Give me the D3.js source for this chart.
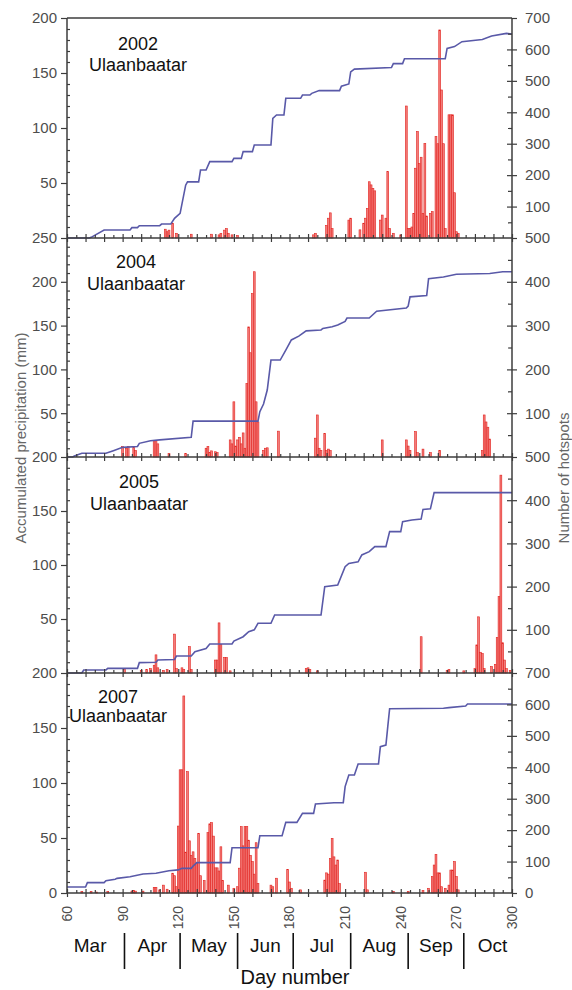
<!DOCTYPE html>
<html><head><meta charset="utf-8">
<script src="https://cdn.jsdelivr.net/npm/d3@7"></script>
<style>html,body{margin:0;padding:0;background:#fff;} svg{display:block;font-family:"Liberation Sans",Arial,sans-serif;}</style>
</head><body><svg id="c" width="572" height="990"></svg>
<script>
// ---------------- DATA ----------------
const years = ["2002", "2004", "2005", "2007"];
const station = "Ulaanbaatar";
const dayTicks = [60, 90, 120, 150, 180, 210, 240, 270, 300];
const monthNames = ["Mar", "Apr", "May", "Jun", "Jul", "Aug", "Sep", "Oct"];
const monthStartDays = [60, 91, 121, 152, 182, 213, 244, 274, 305];
const leftMax = [200, 250, 200, 200];
const rightMax = [700, 500, 500, 700];

// accumulated precipitation (mm): vertices of the step-like curve
const precipDays2002 = [60,72,73,80,94,95,98,99,110,111,116,118,121,124,125,131,132,135,137,149,150,154,155,160,161,170,171,173,177,178,186,187,191,192,196,207,208,212,213,215,235,236,241,242,264,265,269,273,284,289,297,300];
const precipTotals2002 = [0,0,0.6,7.3,7.3,9.4,9.4,11.2,11.2,12.7,12.7,17.9,22.4,48,51,51,61.8,61.8,69.4,69.4,72.4,72.4,78.5,78.5,84.5,84.5,108.8,111.8,111.8,127,127,130,130,131.5,134,134,138,140,151,153.5,155,158.5,158.5,163,163,172.4,174,178.5,180.5,183.6,186,185.5];

const precipDays2004 = [60,63,64,68,81,85,90,98,99,105,110,127,128,163,164,166,168,170,175,178,181,185,189,197,198,203,206,210,211,223,227,243,244,245,254,255,263,270,288,295,300];
const precipTotals2004 = [0,0,1.2,4.2,4.2,7.2,11,12,15.6,18.6,19.5,22.4,41,41,51.7,60.5,76.5,110.7,110.7,122,133.6,138,144,145,146.8,148.7,150.7,154.7,158.6,158.6,166.4,170,172.2,182.8,184.3,203.6,205.5,208.7,209.5,211.4,211.4];

const precipDays2005 = [60,68,69,81,82,98,99,108,109,118,119,127,129,135,137,149,150,155,158,161,163,170,172,197,199,206,210,212,217,219,223,226,232,234,240,241,246,251,252,256,258,300];
const precipTotals2005 = [0,0,2.8,2.8,4.3,4.3,9.6,10,12,12.5,15.7,15.7,19.8,22.6,26.9,26.9,29.5,33.6,38.3,40,46,46,53.7,53.7,80,81.5,98.5,101.5,103,109.3,112.4,117,117,130.9,130.9,140.1,141.6,142.5,151.5,152,167,167];

const precipDays2007 = [60,70,71,80,81,86,87,94,101,108,115,120,122,127,128,130,148,149,163,164,176,178,184,187,193,194,204,209,210,212,215,217,228,229,232,233,234,263,266,275,276,300];
const precipTotals2007 = [5.5,5.5,9.4,9.4,11.2,12.5,13.3,14.8,17.3,17.9,20.3,21,22.4,22.4,24.5,27.6,27.6,41.2,41.2,52.1,52.1,64.2,64.2,72.4,72.4,80.9,82.1,82.1,96.7,107.3,107.3,117.3,117.3,133,134.5,151.2,167.5,168,168.5,170,171.8,171.8];

// number of hotspots per day
const hotspotDays2002 = [113,114,115,117,119,127,138,142,143,145,146,147,149,152,193,194,200,201,202,203,212,213,218,220,221,222,223,224,225,226,229,230,232,233,234,236,240,243,244,245,246,247,248,249,250,251,252,253,254,256,257,259,260,261,262,263,264,266,267,268,269,270,271];
const hotspotCounts2002 = [28,20,25,47,15,12,12,10,15,25,30,15,10,8,10,15,40,63,80,30,57,63,26,47,63,94,179,169,158,150,57,73,63,211,30,15,10,420,30,30,35,78,222,339,237,257,78,301,70,78,84,323,300,662,471,300,30,392,392,392,144,20,15];

const hotspotDays2004 = [90,92,93,96,97,107,108,109,115,124,135,136,137,138,140,141,148,149,150,151,152,153,154,155,156,157,158,159,160,161,162,163,166,167,168,174,194,195,196,197,199,200,201,202,230,243,244,245,248,249,252,256,261,284,285,286,287,288];
const hotspotCounts2004 = [24,20,24,22,15,37,37,30,8,8,20,24,10,14,12,10,39,30,126,25,39,45,30,55,20,168,297,238,373,423,126,80,15,20,21,59,43,96,20,15,54,15,18,15,39,39,25,15,58,10,18,10,15,15,96,80,68,41];

const hotspotDays2005 = [91,100,103,105,107,108,109,112,114,118,119,122,123,126,127,140,141,142,143,145,146,148,189,190,191,195,251,265,266,274,280,281,282,283,284,285,289,291,292,293,294,295,296,297,299];
const hotspotCounts2005 = [8,6,8,10,18,42,12,6,8,90,10,12,8,61,8,30,30,116,66,36,36,5,10,12,8,5,84,6,8,5,10,65,130,48,45,10,15,20,82,177,458,70,30,10,6];

const hotspotDays2007 = [68,73,76,82,95,96,97,101,107,108,110,112,114,117,118,119,120,121,122,123,124,125,126,127,128,129,130,131,132,134,136,137,138,139,140,141,142,143,144,147,150,152,153,154,155,156,157,158,159,160,161,162,163,170,171,173,179,180,181,186,199,200,201,202,203,204,205,206,207,221,222,236,244,252,255,257,258,259,260,261,262,264,266,267,268,269,270,271];
const hotspotCounts2007 = [5,5,3,5,6,8,6,6,18,18,10,25,12,63,55,20,213,392,392,627,130,386,166,120,131,110,95,190,55,40,192,220,224,181,80,80,70,147,40,25,15,20,79,211,150,211,211,168,120,100,60,160,30,25,20,47,75,35,15,10,41,64,60,110,174,115,89,105,30,66,10,5,5,8,15,52,89,123,64,64,20,15,25,73,73,100,52,10];

const panels = [
  {pDays: precipDays2002, pTot: precipTotals2002, hDays: hotspotDays2002, hCnt: hotspotCounts2002},
  {pDays: precipDays2004, pTot: precipTotals2004, hDays: hotspotDays2004, hCnt: hotspotCounts2004},
  {pDays: precipDays2005, pTot: precipTotals2005, hDays: hotspotDays2005, hCnt: hotspotCounts2005},
  {pDays: precipDays2007, pTot: precipTotals2007, hDays: hotspotDays2007, hCnt: hotspotCounts2007}
];

// ---------------- LAYOUT ----------------
const svg = d3.select("#c");
const X0 = 67, X1 = 512;
const tops = [18, 238, 457, 673];
const bottoms = [238, 457, 673, 893];
const labelX = [138, 136, 139, 118];
const labelY1 = [50, 268, 488, 703];
const labelY2 = [71, 290, 510, 722];
const axisColor = "#3c3c3c";
const tickTextColor = "#4d4d4d";
const FONT = '"Liberation Sans",Arial,sans-serif';

const x = d3.scaleLinear().domain([dayTicks[0], dayTicks[dayTicks.length - 1]]).range([X0, X1]);
const bw = x(61) - x(60);

panels.forEach((p, i) => {
  const top = tops[i], bot = bottoms[i];
  const yL = d3.scaleLinear().domain([0, leftMax[i]]).range([bot, top]);
  const yR = d3.scaleLinear().domain([0, rightMax[i]]).range([bot, top]);
  const g = svg.append("g");

  // bars
  g.append("g").selectAll("rect").data(d3.zip(p.hDays, p.hCnt)).join("rect")
    .attr("x", d => x(d[0]) - bw / 2).attr("width", bw)
    .attr("y", d => yR(d[1])).attr("height", d => bot - yR(d[1]))
    .attr("fill", "#f37c7a").attr("stroke", "#e2231f").attr("stroke-width", 0.6);

  // precipitation line
  const line = d3.line().x(d => x(d[0])).y(d => yL(d[1]));
  g.append("path").datum(d3.zip(p.pDays, p.pTot)).attr("d", line)
    .attr("fill", "none").attr("stroke", "#5959a8").attr("stroke-width", 1.6);

  // left axis
  const lMaj = d3.range(0, leftMax[i] + 1, 50).filter(v => v > 0 || i === 3);
  const lMin = d3.range(10, leftMax[i], 10).filter(v => v % 50 !== 0);
  const la = g.append("g").attr("transform", `translate(${X0},0)`)
    .call(d3.axisLeft(yL).tickValues(lMaj).tickSize(6).tickPadding(4).tickFormat(d3.format("d")));
  const lm = g.append("g").attr("transform", `translate(${X0},0)`)
    .call(d3.axisRight(yL).tickValues(lMin).tickSize(3).tickFormat(""));

  // right axis
  const rMaj = d3.range(0, rightMax[i] + 1, 100).filter(v => v > 0 || i === 3);
  const rIn = d3.range(100, rightMax[i], 100);
  const rMin = d3.range(50, rightMax[i], 100);
  const ra = g.append("g").attr("transform", `translate(${X1},0)`)
    .call(d3.axisRight(yR).tickValues(rMaj).tickSize(5).tickPadding(8).tickFormat(d3.format("d")));
  const ri = g.append("g").attr("transform", `translate(${X1},0)`)
    .call(d3.axisLeft(yR).tickValues(rIn).tickSize(5).tickFormat(""));
  const rm = g.append("g").attr("transform", `translate(${X1},0)`)
    .call(d3.axisLeft(yR).tickValues(rMin).tickSize(4).tickFormat(""));

  // x axis (crossing ticks)
  const xMaj = d3.range(60, 301, 10);
  const xMin = d3.range(65, 300, 10);
  const xa = g.append("g").attr("transform", `translate(0,${bot})`)
    .call(d3.axisBottom(x).tickValues(xMaj).tickSize(4).tickFormat(""));
  const xb = g.append("g").attr("transform", `translate(0,${bot})`)
    .call(d3.axisTop(x).tickValues(xMaj).tickSize(4).tickFormat(""));
  const xc = g.append("g").attr("transform", `translate(0,${bot})`)
    .call(d3.axisTop(x).tickValues(xMin).tickSize(3).tickFormat(""));

  [la, lm, ra, ri, rm, xa, xb, xc].forEach(a => {
    a.select(".domain").remove();
    a.selectAll("line").attr("stroke", axisColor).attr("stroke-width", 1.2);
    a.selectAll("text").attr("fill", tickTextColor).style("font-size", "15px")
      .style("font-family", FONT);
  });

  // frame lines
  g.append("line").attr("x1", X0).attr("x2", X0).attr("y1", top).attr("y2", bot)
    .attr("stroke", axisColor).attr("stroke-width", 1.5);
  g.append("line").attr("x1", X1).attr("x2", X1).attr("y1", top).attr("y2", bot)
    .attr("stroke", axisColor).attr("stroke-width", 1.5);
  g.append("line").attr("x1", X0).attr("x2", X1).attr("y1", bot).attr("y2", bot)
    .attr("stroke", axisColor).attr("stroke-width", 1.5);
  if (i === 0) {
    g.append("line").attr("x1", X0).attr("x2", X1).attr("y1", top).attr("y2", top)
      .attr("stroke", axisColor).attr("stroke-width", 1.5);
  }

  // panel labels
  g.append("text").attr("x", labelX[i]).attr("y", labelY1[i]).attr("text-anchor", "middle")
    .style("font-size", "18px").attr("fill", "#111").text(years[i]);
  g.append("text").attr("x", labelX[i]).attr("y", labelY2[i]).attr("text-anchor", "middle")
    .style("font-size", "18px").attr("fill", "#111").text(station);
});

// bottom day labels (rotated)
const bottom = bottoms[3];
svg.append("g").selectAll("text").data(dayTicks).join("text")
  .attr("transform", d => `translate(${x(d)},${bottom + 13}) rotate(-90)`)
  .attr("text-anchor", "end").attr("dy", "0.35em")
  .style("font-size", "14px").attr("fill", tickTextColor).text(d => d);

// month separators & names
const sepDays = monthStartDays.slice(1, -1);
svg.append("g").selectAll("line").data(sepDays).join("line")
  .attr("x1", d => x(d)).attr("x2", d => x(d)).attr("y1", 933).attr("y2", 969)
  .attr("stroke", "#111").attr("stroke-width", 1.6);
svg.append("g").selectAll("text").data(monthNames).join("text")
  .attr("x", (d, k) => x((Math.max(monthStartDays[k], 54) - (k === 0 ? 6 : 0) + monthStartDays[k + 1]) / 2))
  .attr("y", 952).attr("text-anchor", "middle")
  .style("font-size", "19px").attr("fill", "#111").text(d => d);
svg.append("text").attr("x", 295).attr("y", 984).attr("text-anchor", "middle")
  .style("font-size", "20px").attr("fill", "#111").text("Day number");

// axis titles
svg.append("text").attr("transform", "translate(21,438) rotate(-90)")
  .attr("text-anchor", "middle").attr("dy", "0.35em")
  .style("font-size", "15px").attr("fill", "#666").text("Accumulated precipitation (mm)");
svg.append("text").attr("transform", "translate(564,478) rotate(-90)")
  .attr("text-anchor", "middle").attr("dy", "0.35em")
  .style("font-size", "15px").attr("fill", "#666").text("Number of hotspots");
</script>
</body></html>
